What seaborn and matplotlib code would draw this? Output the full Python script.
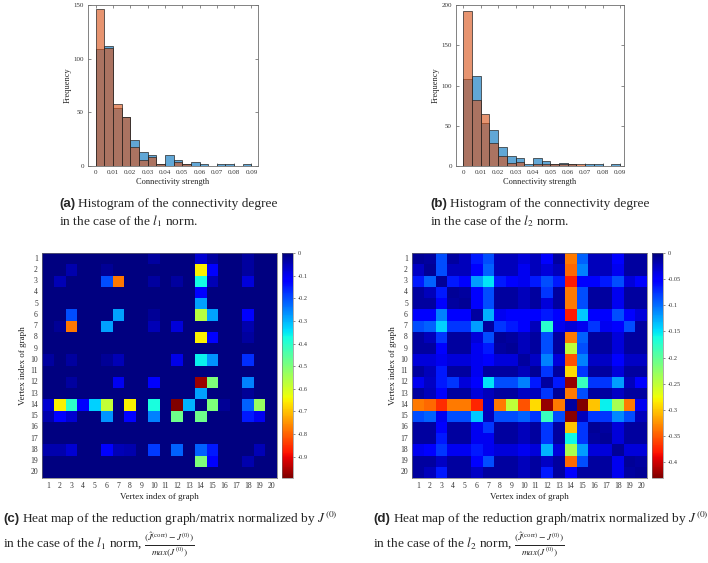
import numpy as np
import pandas as pd
import matplotlib
matplotlib.use("Agg")
import matplotlib.pyplot as plt
import seaborn as sns

# ---------------- data ----------------
bin_edges = [0, 0.005, 0.01, 0.015, 0.02, 0.025, 0.03, 0.035, 0.04, 0.045,
             0.05, 0.055, 0.06, 0.065, 0.07, 0.075, 0.08, 0.085, 0.09]
counts_a_blue = [109, 112, 54, 46, 24, 13, 10, 2, 10, 6, 2, 4, 2, 0, 2, 2, 0, 2]
counts_a_orange = [146, 110, 58, 46, 18, 6, 8, 2, 0, 4, 2, 0, 0, 0, 0, 0, 0, 0]
counts_b_blue = [108, 112, 54, 45, 24, 13, 10, 2, 10, 6, 2, 4, 2, 0, 2, 2, 0, 2]
counts_b_orange = [192, 82, 65, 28, 12, 4, 5, 0, 2, 2, 2, 2, 2, 2, 0, 0, 0, 0]

hist_xticks = [0, 0.01, 0.02, 0.03, 0.04, 0.05, 0.06, 0.07, 0.08, 0.09]
hist_xticklabels = ["0", "0.01", "0.02", "0.03", "0.04", "0.05", "0.06", "0.07", "0.08", "0.09"]
hist_a_yticks = [0, 50, 100, 150]
hist_b_yticks = [0, 50, 100, 150, 200]

vertices = [str(i) for i in range(1, 21)]

heat_c = [
    [0, 0, 0, 0, 0, 0, 0, 0, 0, -0.03, 0, 0, 0, -0.07, -0.03, 0, 0, -0.03, 0, 0],
    [0, 0, -0.04, 0, 0, -0.02, 0, 0, 0, 0, 0, 0, 0, -0.65, -0.12, 0, 0, -0.03, 0, 0],
    [0, -0.05, 0, 0, 0, -0.2, -0.78, 0, 0, -0.03, 0, -0.03, 0, -0.37, -0.05, 0, 0, -0.08, 0, 0],
    [0, 0, 0, 0, 0, 0, 0, 0, 0, 0, 0, 0, 0, -0.12, 0, 0, 0, 0, 0, 0],
    [0, 0, 0, 0, 0, 0, 0, 0, 0, 0, 0, 0, 0, -0.28, 0, 0, 0, 0, 0, 0],
    [0, 0, -0.2, 0, 0, 0, -0.28, 0, 0, -0.02, 0, 0, 0, -0.57, -0.28, 0, 0, -0.12, 0, 0],
    [0, -0.02, -0.78, 0, 0, -0.28, 0, 0, 0, -0.05, 0, -0.08, 0, 0, 0, 0, 0, -0.04, 0, 0],
    [0, 0, 0, 0, 0, 0, 0, 0, 0, 0, 0, 0, 0, -0.65, -0.12, 0, 0, -0.03, 0, 0],
    [0, 0, 0, 0, 0, 0, 0, 0, 0, 0, 0, 0, 0, 0, 0, 0, 0, 0, 0, 0],
    [-0.03, 0, -0.03, 0, 0, -0.02, -0.05, 0, 0, 0, 0, -0.09, 0, -0.36, -0.27, 0, 0, -0.17, 0, 0],
    [0, 0, 0, 0, 0, 0, 0, 0, 0, 0, 0, 0, 0, 0, 0, 0, 0, 0, 0, 0],
    [0, 0, -0.03, 0, 0, 0, -0.1, 0, 0, -0.11, 0, 0, 0, -0.97, -0.5, 0, 0, -0.25, 0, 0],
    [0, 0, 0, 0, 0, 0, 0, 0, 0, 0, 0, 0, 0, -0.28, 0, 0, 0, -0.02, 0, 0],
    [-0.07, -0.65, -0.4, -0.12, -0.33, -0.58, 0, -0.65, 0, -0.38, 0, -0.994, -0.3, 0, -0.5, -0.02, 0, -0.22, -0.53, 0],
    [-0.04, -0.12, -0.07, 0, 0, -0.27, 0, -0.12, 0, -0.25, 0, -0.48, 0, -0.48, 0, 0, 0, -0.15, -0.1, 0],
    [0, 0, 0, 0, 0, 0, 0, 0, 0, 0, 0, 0, 0, 0, 0, 0, 0, 0, 0, 0],
    [0, 0, 0, 0, 0, 0, 0, 0, 0, 0, 0, 0, 0, 0, 0, 0, 0, 0, 0, 0],
    [-0.04, -0.04, -0.07, 0, 0, -0.11, -0.05, -0.04, 0, -0.18, 0, -0.22, 0, -0.22, -0.15, 0, 0, 0, -0.05, 0],
    [0, 0, 0, 0, 0, 0, 0, 0, 0, 0, 0, 0, 0, -0.5, -0.11, 0, 0, -0.04, 0, 0],
    [0, 0, 0, 0, 0, 0, 0, 0, 0, 0, 0, 0, 0, 0, 0, 0, 0, 0, 0, 0],
]

heat_d = [
    [-0.009, -0.013, -0.086, -0.013, -0.022, -0.065, -0.086, -0.022, -0.022, -0.034, -0.022, -0.052, -0.013, -0.335, -0.095, -0.022, -0.022, -0.052, -0.013, -0.013],
    [-0.026, -0.009, -0.086, -0.022, -0.022, -0.052, -0.095, -0.022, -0.022, -0.043, -0.022, -0.034, -0.022, -0.344, -0.108, -0.022, -0.022, -0.043, -0.013, -0.013],
    [-0.065, -0.095, -0.009, -0.065, -0.052, -0.12, -0.15, -0.065, -0.052, -0.043, -0.065, -0.086, -0.065, -0.378, -0.052, -0.052, -0.065, -0.086, -0.034, -0.052],
    [-0.013, -0.022, -0.065, -0.009, -0.013, -0.052, -0.086, -0.013, -0.013, -0.022, -0.013, -0.077, -0.013, -0.335, -0.086, -0.013, -0.013, -0.043, -0.013, -0.013],
    [-0.013, -0.013, -0.052, -0.013, -0.009, -0.052, -0.086, -0.013, -0.013, -0.022, -0.013, -0.034, -0.013, -0.335, -0.086, -0.013, -0.013, -0.043, -0.013, -0.013],
    [-0.052, -0.052, -0.108, -0.052, -0.052, -0.013, -0.129, -0.043, -0.052, -0.052, -0.052, -0.065, -0.052, -0.378, -0.138, -0.052, -0.052, -0.086, -0.052, -0.034],
    [-0.086, -0.095, -0.142, -0.077, -0.077, -0.12, -0.013, -0.077, -0.065, -0.052, -0.022, -0.172, -0.043, -0.034, -0.043, -0.077, -0.043, -0.052, -0.086, -0.013],
    [-0.013, -0.022, -0.077, -0.013, -0.013, -0.034, -0.086, -0.009, -0.013, -0.022, -0.013, -0.086, -0.013, -0.335, -0.095, -0.013, -0.013, -0.034, -0.013, -0.013],
    [-0.013, -0.013, -0.052, -0.013, -0.013, -0.043, -0.065, -0.013, -0.009, -0.022, -0.013, -0.086, -0.013, -0.249, -0.086, -0.013, -0.013, -0.034, -0.013, -0.013],
    [-0.034, -0.034, -0.043, -0.034, -0.034, -0.043, -0.052, -0.034, -0.034, -0.013, -0.026, -0.108, -0.034, -0.353, -0.108, -0.026, -0.026, -0.052, -0.026, -0.026],
    [-0.013, -0.022, -0.065, -0.013, -0.013, -0.043, -0.013, -0.013, -0.013, -0.022, -0.009, -0.077, -0.013, -0.292, -0.077, -0.013, -0.013, -0.034, -0.013, -0.013],
    [-0.043, -0.026, -0.065, -0.077, -0.034, -0.052, -0.15, -0.086, -0.086, -0.108, -0.065, -0.013, -0.065, -0.421, -0.181, -0.077, -0.077, -0.12, -0.022, -0.052],
    [-0.013, -0.022, -0.052, -0.013, -0.013, -0.034, -0.022, -0.013, -0.013, -0.026, -0.022, -0.077, -0.009, -0.335, -0.086, -0.013, -0.013, -0.026, -0.013, -0.013],
    [-0.335, -0.344, -0.37, -0.335, -0.335, -0.374, -0.026, -0.335, -0.249, -0.353, -0.292, -0.421, -0.335, -0.013, -0.43, -0.301, -0.155, -0.237, -0.335, -0.043],
    [-0.086, -0.095, -0.043, -0.086, -0.086, -0.138, -0.022, -0.086, -0.086, -0.095, -0.077, -0.181, -0.086, -0.425, -0.022, -0.077, -0.077, -0.112, -0.086, -0.022],
    [-0.013, -0.013, -0.052, -0.013, -0.013, -0.043, -0.077, -0.013, -0.013, -0.022, -0.013, -0.077, -0.013, -0.301, -0.077, -0.009, -0.013, -0.034, -0.013, -0.013],
    [-0.013, -0.013, -0.065, -0.013, -0.013, -0.043, -0.043, -0.013, -0.013, -0.022, -0.013, -0.077, -0.013, -0.159, -0.077, -0.013, -0.009, -0.034, -0.013, -0.013],
    [-0.043, -0.052, -0.077, -0.043, -0.043, -0.065, -0.043, -0.034, -0.034, -0.043, -0.034, -0.129, -0.034, -0.237, -0.12, -0.034, -0.034, -0.009, -0.034, -0.034],
    [-0.013, -0.013, -0.026, -0.013, -0.013, -0.052, -0.086, -0.013, -0.013, -0.022, -0.013, -0.026, -0.013, -0.344, -0.086, -0.013, -0.013, -0.043, -0.009, -0.013],
    [-0.013, -0.022, -0.065, -0.013, -0.013, -0.026, -0.013, -0.013, -0.013, -0.022, -0.013, -0.065, -0.013, -0.052, -0.013, -0.013, -0.013, -0.043, -0.013, -0.009],
]

cbar_c_ticks = [0, -0.1, -0.2, -0.3, -0.4, -0.5, -0.6, -0.7, -0.8, -0.9]
cbar_c_labels = ["0", "-0.1", "-0.2", "-0.3", "-0.4", "-0.5", "-0.6", "-0.7", "-0.8", "-0.9"]
cbar_d_ticks = [0, -0.05, -0.1, -0.15, -0.2, -0.25, -0.3, -0.35, -0.4]
cbar_d_labels = ["0", "-0.05", "-0.1", "-0.15", "-0.2", "-0.25", "-0.3", "-0.35", "-0.4"]

# ---------------- style ----------------
sns.set_theme(style="white")
plt.rcParams["font.family"] = ["Liberation Serif", "DejaVu Serif"]
plt.rcParams["mathtext.fontset"] = "stix"

W, H = 708, 563
fig = plt.figure(figsize=(W / 100, H / 100), dpi=100)


def px_axes(x0, y0, x1, y1):
    return fig.add_axes([x0 / W, 1 - y1 / H, (x1 - x0) / W, (y1 - y0) / H])


BLUE = (0.0, 0.447, 0.741)
ORANGE = (0.85, 0.325, 0.098)
SPINE = "#6e6e6e"

centers = [(bin_edges[i] + bin_edges[i + 1]) / 2 for i in range(len(bin_edges) - 1)]


def draw_hist(ax, blue, orange, yticks, xlim):
    df = pd.DataFrame({"x": centers, "blue": blue, "orange": orange})
    for col, c in (("blue", BLUE), ("orange", ORANGE)):
        sns.histplot(data=df, x="x", weights=col, bins=bin_edges, color=c,
                     alpha=0.62, edgecolor="#262626", linewidth=0.5, ax=ax)
    ax.set_xlim(*xlim)
    ax.set_ylim(yticks[0], yticks[-1])
    ax.set_xticks(hist_xticks)
    ax.set_xticklabels(hist_xticklabels)
    ax.set_yticks(yticks)
    ax.set_yticklabels([str(t) for t in yticks])
    ax.tick_params(direction="in", length=2, width=0.4, labelsize=5, pad=3,
                   colors="#333333", top=True, right=True, bottom=True, left=True)
    ax.set_xlabel("Connectivity strength", fontsize=6, labelpad=2, color="#222222")
    ax.set_ylabel("Frequency", fontsize=6, labelpad=1, color="#222222")
    for s in ax.spines.values():
        s.set_color(SPINE)
        s.set_linewidth(0.6)


ax_a = px_axes(88, 5, 258, 166)
draw_hist(ax_a, counts_a_blue, counts_a_orange, hist_a_yticks, (-0.0045, 0.0938))
ax_b = px_axes(456, 5, 624, 166)
draw_hist(ax_b, counts_b_blue, counts_b_orange, hist_b_yticks, (-0.0042, 0.0923))


def draw_heat(ax, cax, mat, vmin, ticks, labels):
    df = pd.DataFrame(mat, index=vertices, columns=vertices)
    sns.heatmap(df, cmap="jet_r", vmin=vmin, vmax=0, ax=ax, cbar_ax=cax,
                xticklabels=vertices, yticklabels=vertices)
    ax.tick_params(length=0, labelsize=5.5, pad=3, colors="#333333")
    ax.set_yticklabels(vertices, rotation=0)
    ax.set_xticklabels(vertices, rotation=0)
    ax.set_xlabel("Vertex index of graph", fontsize=6.5, labelpad=2, color="#222222")
    ax.set_ylabel("Vertex index of graph", fontsize=6.5, labelpad=2, color="#222222")
    for s in ax.spines.values():
        s.set_visible(True)
        s.set_color(SPINE)
        s.set_linewidth(0.5)
    cb = ax.collections[0].colorbar
    cb.set_ticks(ticks)
    cb.set_ticklabels(labels)
    cb.ax.tick_params(labelsize=4.5, length=1.5, width=0.4, pad=2, colors="#333333")
    cb.outline.set_linewidth(0.4)
    cb.outline.set_edgecolor(SPINE)


ax_c = px_axes(42, 253, 277, 478)
cax_c = px_axes(282, 253, 293, 478)
draw_heat(ax_c, cax_c, heat_c, -0.994, cbar_c_ticks, cbar_c_labels)
ax_d = px_axes(412, 253, 647, 478)
cax_d = px_axes(652, 253, 663, 478)
draw_heat(ax_d, cax_d, heat_d, -0.43, cbar_d_ticks, cbar_d_labels)

# ---------------- captions ----------------
renderer = fig.canvas.get_renderer()
CAP = 9.6


def caption(xpx, ypx, tag, text):
    t = fig.text(xpx / W, 1 - ypx / H, tag, fontfamily="Liberation Sans",
                 fontweight="bold", fontsize=CAP, va="center")
    bb = t.get_window_extent(renderer)
    fig.text(bb.x1 / W + 3 / W, 1 - ypx / H, text, fontsize=CAP, va="center")


def line(xpx, ypx, text):
    fig.text(xpx / W, 1 - ypx / H, text, fontsize=CAP, va="center")


caption(59, 204, "(a)", "Histogram of the connectivity degree")
line(59, 221, r"in the case of the $l_1$ norm.")
caption(430, 204, "(b)", "Histogram of the connectivity degree")
line(430, 221, r"in the case of the $l_2$ norm.")

frac = r"$\frac{(\hat{J}^{(\mathrm{corr})}-J^{(0)})}{max(J^{(0)})}$"
caption(3, 519, "(c)", r"Heat map of the reduction graph/matrix normalized by $J^{(0)}$")
line(3, 545, r"in the case of the $l_1$ norm, " + frac)
caption(373, 519, "(d)", r"Heat map of the reduction graph/matrix normalized by $J^{(0)}$")
line(373, 545, r"in the case of the $l_2$ norm, " + frac)

fig.savefig("out.png", dpi=100)
